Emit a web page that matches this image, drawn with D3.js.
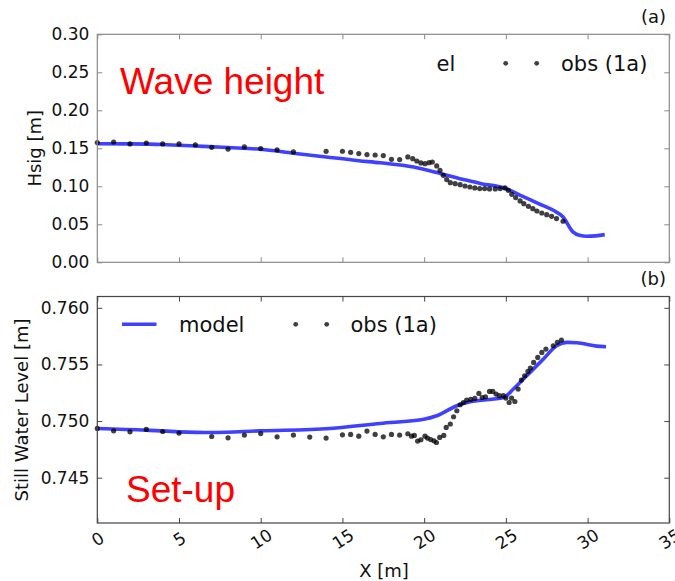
<!DOCTYPE html>
<html>
<head>
<meta charset="utf-8">
<script src="https://cdn.jsdelivr.net/npm/d3@7"></script>
<style>
  body { margin: 0; background: #fff; }
  text { font-family: "DejaVu Sans", sans-serif; }
</style>
</head>
<body>
<div id="chart"></div>
<script>
// ---- data ----
var xTicks = [0, 5, 10, 15, 20, 25, 30, 35];
var hsTicks = [0.00, 0.05, 0.10, 0.15, 0.20, 0.25, 0.30];
var swlTicks = [0.745, 0.750, 0.755, 0.760];

// wave height, model
var hsModelX = [0, 2, 4, 6, 8, 10, 12, 14, 16, 17.3, 19.35, 20.4, 21, 22.4, 23.5, 25, 26, 27, 27.9, 28.5, 29.1, 29.5, 29.95, 30.5, 31.05];
var hsModelY = [0.156, 0.1558, 0.155, 0.153, 0.151, 0.1487, 0.1436, 0.1386, 0.1337, 0.131, 0.1254, 0.1202, 0.1167, 0.1088, 0.1035, 0.097, 0.087, 0.0773, 0.0684, 0.0596, 0.040, 0.0355, 0.0342, 0.0348, 0.0364];

// wave height, observations
var hsObsX = [0, 1, 2, 3, 4, 5, 6, 7, 8, 9, 10, 11, 12, 14, 15, 15.5, 16, 16.5, 17, 17.5, 18, 18.5,
  19.0, 19.3, 19.55, 19.8, 20.05, 20.3, 20.5, 20.77, 20.97, 21.17, 21.38, 21.6, 21.9, 22.2, 22.5, 22.8,
  23.1, 23.4, 23.7, 24.0, 24.35, 24.65, 24.95, 25.15, 25.36, 25.6, 25.87, 26.1, 26.38, 26.65, 26.9,
  27.2, 27.5, 27.8, 28.1, 28.5];
var hsObsY = [0.1575, 0.1583, 0.1557, 0.157, 0.1557, 0.1557, 0.1544, 0.1513, 0.149, 0.1518, 0.1496, 0.1478, 0.1452, 0.146, 0.1461, 0.1447, 0.143, 0.1417, 0.1412, 0.1404, 0.1355, 0.1351,
  0.1386, 0.1364, 0.1333, 0.1307, 0.1298, 0.1311, 0.132, 0.1268, 0.121, 0.1145, 0.1088, 0.1048, 0.1035, 0.1022, 0.1004, 0.0991,
  0.0978, 0.097, 0.097, 0.0965, 0.0965, 0.097, 0.0978, 0.0947, 0.0895, 0.0851, 0.0807, 0.0772, 0.0737, 0.0706, 0.0675,
  0.0649, 0.0627, 0.0605, 0.0575, 0.054];

// still water level, model
var swlModelX = [0, 3, 5, 7, 10, 14.24, 17.3, 20.05, 20.77, 22, 22.8, 24.85, 25.46, 26.07, 27.3, 28.1, 28.73, 29.34, 30.56, 31.13];
var swlModelY = [0.74935, 0.7492, 0.74905, 0.74899, 0.74914, 0.74935, 0.74979, 0.75018, 0.75047, 0.75135, 0.7517, 0.75208, 0.75283, 0.75371, 0.75548, 0.75665, 0.75695, 0.75692, 0.75662, 0.75656];

// still water level, observations
var swlObsX = [0, 1, 2, 3, 4, 5, 7, 8, 9, 10, 11, 12, 13, 14, 15, 15.5, 16, 16.5, 17, 17.5, 18, 18.5,
  19, 19.23, 19.4, 19.6, 19.8, 20.05, 20.2, 20.4, 20.6, 20.75, 20.95, 21.2, 21.35, 21.6, 21.8, 22.0,
  22.2, 22.4, 22.6, 22.85, 23.1, 23.35, 23.55, 23.75, 24.0, 24.2, 24.4, 24.6, 24.85, 25.0, 25.2, 25.35,
  25.55, 25.75, 25.95, 26.15, 26.35, 26.5, 26.7, 26.95, 27.2, 27.45, 27.9, 28.15, 28.4];
var swlObsY = [0.74935, 0.74914, 0.74905, 0.74926, 0.74908, 0.74894, 0.74864, 0.74852, 0.74876, 0.7489, 0.74861, 0.74876, 0.74859, 0.7485, 0.74879, 0.74882, 0.74867, 0.74912, 0.74882, 0.74861, 0.74882, 0.74876,
  0.74888, 0.74867, 0.74873, 0.74823, 0.74835, 0.74867, 0.7485, 0.74837, 0.74826, 0.74811, 0.74856, 0.74873, 0.74944, 0.74974, 0.75038, 0.75091,
  0.75144, 0.75164, 0.75186, 0.75191, 0.752, 0.75244, 0.75208, 0.75215, 0.75262, 0.75262, 0.75238, 0.75224, 0.75224, 0.75203, 0.75164, 0.75203,
  0.75173, 0.75283, 0.75362, 0.754, 0.75438, 0.75468, 0.75518, 0.75562, 0.75606, 0.75636, 0.75665, 0.75695, 0.75715];

var W = 675, H = 581;
var left = 97.3, right = 669.3;

var svg = d3.select("#chart").append("svg")
    .attr("width", W)
    .attr("height", H);

var x = d3.scaleLinear().domain([0, 35]).range([left, right]);
var yTop = d3.scaleLinear().domain([0, 0.30]).range([262.3, 34.3]);
var yBot = d3.scaleLinear().domain([0.741, 0.761]).range([523, 296.5]);

function zip(xs, ys) { return xs.map(function(v, i) { return [v, ys[i]]; }); }

function drawPanel(y, yticks, fmt, modelX, modelY, obsX, obsY, spineColor, showX) {
  var g = svg.append("g");
  var y0 = y.range()[0], y1 = y.range()[1];

  // model line
  var line = d3.line()
      .x(function(d) { return x(d[0]); })
      .y(function(d) { return y(d[1]); })
      .curve(d3.curveMonotoneX);
  g.append("path")
      .datum(zip(modelX, modelY))
      .attr("d", line)
      .attr("fill", "none")
      .attr("stroke", "blue")
      .attr("stroke-opacity", 0.75)
      .attr("stroke-width", 3.6);

  // observations
  g.selectAll(".dot")
      .data(zip(obsX, obsY))
    .enter().append("circle")
      .attr("cx", function(d) { return x(d[0]); })
      .attr("cy", function(d) { return y(d[1]); })
      .attr("r", 2.6)
      .attr("fill", "black")
      .attr("fill-opacity", 0.75);

  // inward ticks on all four sides
  var tl = 5;
  var axL = d3.axisLeft(y).tickValues(yticks).tickSize(-tl).tickFormat(fmt).tickPadding(8);
  var axR = d3.axisRight(y).tickValues(yticks).tickSize(-tl).tickFormat("");
  var axB = d3.axisBottom(x).tickValues(xTicks).tickSize(-tl).tickFormat(showX ? d3.format("d") : "");
  var axT = d3.axisTop(x).tickValues(xTicks).tickSize(-tl).tickFormat("");

  var gl = g.append("g").attr("transform", "translate(" + left + ",0)").call(axL);
  g.append("g").attr("transform", "translate(" + right + ",0)").call(axR);
  var gb = g.append("g").attr("transform", "translate(0," + y0 + ")").call(axB);
  g.append("g").attr("transform", "translate(0," + y1 + ")").call(axT);

  g.selectAll(".domain").remove();
  g.selectAll(".tick line").attr("stroke", spineColor).attr("stroke-width", 1);
  gl.selectAll("text").attr("font-size", 17).attr("fill", "#111");

  if (showX) {
    gb.selectAll("text")
        .attr("font-size", 17)
        .attr("fill", "#111")
        .attr("y", 0)
        .attr("dy", 0)
        .attr("text-anchor", "middle")
        .attr("dominant-baseline", "central")
        .attr("transform", "translate(0,16) rotate(-33)");
  }

  g.append("rect")
      .attr("x", left).attr("y", y1)
      .attr("width", right - left).attr("height", y0 - y1)
      .attr("fill", "none")
      .attr("stroke", spineColor)
      .attr("stroke-width", 1.2);
  return g;
}

drawPanel(yTop, hsTicks, d3.format(".2f"), hsModelX, hsModelY, hsObsX, hsObsY, "#8a8a8a", false);
drawPanel(yBot, swlTicks, d3.format(".3f"), swlModelX, swlModelY, swlObsX, swlObsY, "#444", true);

// axis labels
svg.append("text")
    .attr("transform", "translate(41," + (yTop(0.15)) + ") rotate(-90)")
    .attr("text-anchor", "middle")
    .attr("font-size", 18).attr("fill", "#111")
    .text("Hsig [m]");
svg.append("text")
    .attr("transform", "translate(28,410) rotate(-90)")
    .attr("text-anchor", "middle")
    .attr("font-size", 18).attr("fill", "#111")
    .text("Still Water Level [m]");
svg.append("text")
    .attr("x", 384).attr("y", 577)
    .attr("text-anchor", "middle")
    .attr("font-size", 18).attr("fill", "#111")
    .text("X [m]");

// panel tags
svg.append("text").attr("x", 666).attr("y", 23).attr("text-anchor", "end")
    .attr("font-size", 18).attr("fill", "#111").text("(a)");
svg.append("text").attr("x", 666).attr("y", 285).attr("text-anchor", "end")
    .attr("font-size", 18).attr("fill", "#111").text("(b)");

// red annotations
svg.append("text").attr("x", 120).attr("y", 94)
    .style("font-family", "'Liberation Sans', Arial, sans-serif")
    .attr("font-size", 37).attr("fill", "red").text("Wave height");
svg.append("text").attr("x", 126).attr("y", 502)
    .style("font-family", "'Liberation Sans', Arial, sans-serif")
    .attr("font-size", 37).attr("fill", "red").text("Set-up");

// legend, top panel (partly hidden in the original)
svg.append("text").attr("x", 436.5).attr("y", 71)
    .attr("font-size", 21).attr("fill", "#111").text("el");
svg.selectAll(".legdotA").data([505.7, 536.7]).enter().append("circle")
    .attr("cx", function(d) { return d; }).attr("cy", 63.3).attr("r", 2.4)
    .attr("fill", "black").attr("fill-opacity", 0.75);
svg.append("text").attr("x", 561).attr("y", 71)
    .attr("font-size", 21).attr("fill", "#111").text("obs (1a)");

// legend, bottom panel
svg.append("line").attr("x1", 122).attr("x2", 156.5).attr("y1", 324.3).attr("y2", 324.3)
    .attr("stroke", "blue").attr("stroke-opacity", 0.75).attr("stroke-width", 3.6);
svg.append("text").attr("x", 179).attr("y", 332)
    .attr("font-size", 21).attr("fill", "#111").text("model");
svg.selectAll(".legdotB").data([295.7, 326.7]).enter().append("circle")
    .attr("cx", function(d) { return d; }).attr("cy", 324.3).attr("r", 2.4)
    .attr("fill", "black").attr("fill-opacity", 0.75);
svg.append("text").attr("x", 350.5).attr("y", 332)
    .attr("font-size", 21).attr("fill", "#111").text("obs (1a)");
</script>
</body>
</html>
